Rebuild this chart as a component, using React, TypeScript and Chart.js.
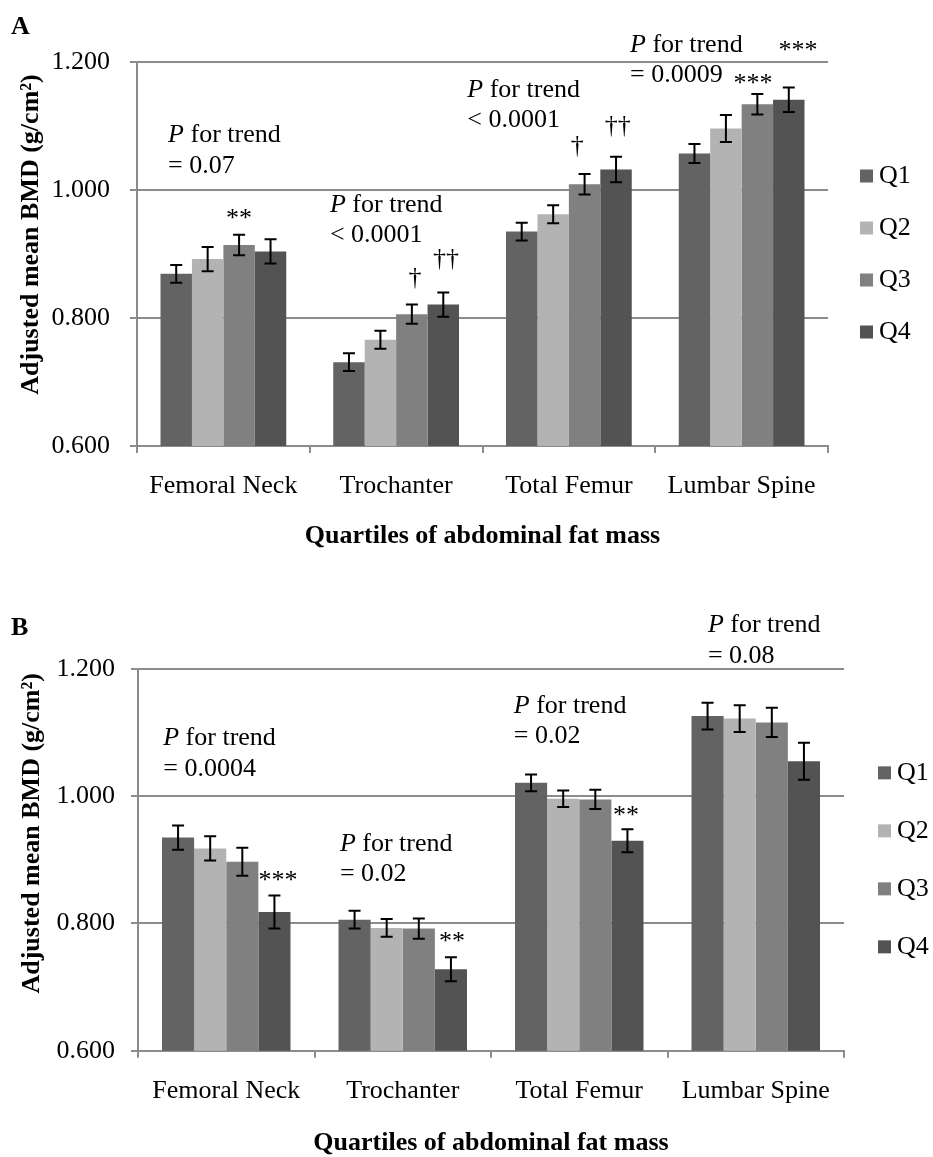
import React, { useEffect, useRef } from 'react';
import { Chart, registerables } from 'chart.js';

Chart.register(...registerables);

// ---------- data ----------
const categories = ['Femoral Neck', 'Trochanter', 'Total Femur', 'Lumbar Spine'];
const quartileLabels = ['Q1', 'Q2', 'Q3', 'Q4'];
const quartileColors = ['#636363', '#b3b3b3', '#808080', '#535353'];
const yTickValues = [0.6, 0.8, 1.0, 1.2];

// Panel A
const aQ1 = [0.869, 0.731, 0.935, 1.057];
const aQ2 = [0.892, 0.766, 0.962, 1.096];
const aQ3 = [0.914, 0.806, 1.009, 1.134];
const aQ4 = [0.904, 0.821, 1.032, 1.141];
const aQ1Err = [0.014, 0.014, 0.014, 0.015];
const aQ2Err = [0.019, 0.014, 0.014, 0.021];
const aQ3Err = [0.016, 0.015, 0.016, 0.016];
const aQ4Err = [0.019, 0.019, 0.020, 0.019];

// Panel B
const bQ1 = [0.935, 0.806, 1.021, 1.126];
const bQ2 = [0.918, 0.793, 0.996, 1.122];
const bQ3 = [0.897, 0.792, 0.995, 1.116];
const bQ4 = [0.818, 0.728, 0.930, 1.055];
const bQ1Err = [0.019, 0.014, 0.013, 0.021];
const bQ2Err = [0.019, 0.014, 0.013, 0.021];
const bQ3Err = [0.022, 0.016, 0.015, 0.023];
const bQ4Err = [0.026, 0.019, 0.018, 0.029];

// annotations (category-fraction / value coordinates)
type Trend = { cat: number; y: number; value: string };
type Mark = { cat: number; y: number; text: string };

const trendA: Trend[] = [
  { cat: -0.32, y: 1.075, value: '= 0.07' },
  { cat: 0.617, y: 0.966, value: '< 0.0001' },
  { cat: 1.412, y: 1.146, value: '< 0.0001' },
  { cat: 2.354, y: 1.216, value: '= 0.0009' },
];
const marksA: Mark[] = [
  { cat: 0.09, y: 0.944, text: '**' },
  { cat: 1.109, y: 0.852, text: '†' },
  { cat: 1.289, y: 0.881, text: '††' },
  { cat: 2.049, y: 1.058, text: '†' },
  { cat: 2.283, y: 1.089, text: '††' },
  { cat: 3.066, y: 1.155, text: '***' },
  { cat: 3.326, y: 1.207, text: '***' },
];

const trendB: Trend[] = [
  { cat: -0.357, y: 1.080, value: '= 0.0004' },
  { cat: 0.644, y: 0.914, value: '= 0.02' },
  { cat: 1.629, y: 1.131, value: '= 0.02' },
  { cat: 2.729, y: 1.258, value: '= 0.08' },
];
const marksB: Mark[] = [
  { cat: 0.293, y: 0.856, text: '***' },
  { cat: 1.279, y: 0.760, text: '**' },
  { cat: 2.265, y: 0.958, text: '**' },
];

const yTitle = 'Adjusted mean BMD (g/cm²)';
const xTitle = 'Quartiles of abdominal fat mass';

// ---------- styling ----------
const FONT = "'Liberation Serif', 'Times New Roman', Times, serif";
const GRID = '#8c8c8c';

type Panel = {
  letter: string;
  series: number[][];
  errors: number[][];
  trends: Trend[];
  marks: Mark[];
  top: number;
  height: number;
  padTop: number;
  padRight: number;
  yWidth: number;
  xHeight: number;
  yTickPad: number;
  xTickPad: number;
  titlePadBottom: number;
  legendX: number;
  legendGap: number;
  yTitleX: number;
  yTitleY: number;
  letterY: number;
};

const panels: Panel[] = [
  {
    letter: 'A',
    series: [aQ1, aQ2, aQ3, aQ4],
    errors: [aQ1Err, aQ2Err, aQ3Err, aQ4Err],
    trends: trendA,
    marks: marksA,
    top: 0,
    height: 580,
    padTop: 62,
    padRight: 105,
    yWidth: 137,
    xHeight: 134,
    yTickPad: 20,
    xTickPad: 17.5,
    titlePadBottom: 28.4,
    legendX: 32,
    legendGap: 52,
    yTitleX: 38,
    yTitleY: 234.5,
    letterY: 33.5,
  },
  {
    letter: 'B',
    series: [bQ1, bQ2, bQ3, bQ4],
    errors: [bQ1Err, bQ2Err, bQ3Err, bQ4Err],
    trends: trendB,
    marks: marksB,
    top: 580,
    height: 580,
    padTop: 89,
    padRight: 89,
    yWidth: 138,
    xHeight: 109.3,
    yTickPad: 16,
    xTickPad: 18,
    titlePadBottom: 1.5,
    legendX: 34,
    legendGap: 58,
    yTitleX: 39,
    yTitleY: 253.3,
    letterY: 55,
  },
];

function PanelChart({ p }: { p: Panel }) {
  const ref = useRef<HTMLCanvasElement>(null);

  useEffect(() => {
    const canvas = ref.current;
    if (!canvas) return;

    const decor = {
      id: 'decor',
      afterDatasetsDraw(chart: any) {
        const ctx = chart.ctx;
        const ys = chart.scales.y;
        ctx.save();
        ctx.strokeStyle = '#000';
        ctx.lineWidth = 2;
        p.series.forEach((vals, d) => {
          const meta = chart.getDatasetMeta(d);
          meta.data.forEach((bar: any, i: number) => {
            const v = vals[i];
            const e = p.errors[d][i];
            const x = bar.x;
            const t = ys.getPixelForValue(v + e);
            const b = ys.getPixelForValue(v - e);
            ctx.beginPath();
            ctx.moveTo(x, t);
            ctx.lineTo(x, b);
            ctx.moveTo(x - 6, t);
            ctx.lineTo(x + 6, t);
            ctx.moveTo(x - 6, b);
            ctx.lineTo(x + 6, b);
            ctx.stroke();
          });
        });
        ctx.restore();
      },
      afterDraw(chart: any) {
        const ctx = chart.ctx;
        const xs = chart.scales.x;
        const ys = chart.scales.y;
        const ca = chart.chartArea;
        const p0 = xs.getPixelForValue(0);
        const cw = xs.getPixelForValue(1) - p0;
        const catPx = (c: number) => p0 + c * cw;

        ctx.save();
        ctx.fillStyle = '#000';
        ctx.textBaseline = 'alphabetic';

        // P for trend annotations
        p.trends.forEach((t) => {
          const x = catPx(t.cat);
          const y = ys.getPixelForValue(t.y);
          ctx.textAlign = 'left';
          ctx.font = `italic 26px ${FONT}`;
          ctx.fillText('P', x, y);
          const w = ctx.measureText('P').width;
          ctx.font = `26px ${FONT}`;
          ctx.fillText(' for trend', x + w, y);
          ctx.fillText(t.value, x, y + 30.5);
        });

        // significance marks
        ctx.font = `26px ${FONT}`;
        ctx.textAlign = 'center';
        p.marks.forEach((m) => {
          ctx.fillText(m.text, catPx(m.cat), ys.getPixelForValue(m.y));
        });

        // legend
        const cy = (ca.top + ca.bottom) / 2;
        ctx.textAlign = 'left';
        ctx.textBaseline = 'middle';
        quartileLabels.forEach((lab, i) => {
          const yc = cy + (i - 1.5) * p.legendGap;
          const x = ca.right + p.legendX;
          ctx.fillStyle = quartileColors[i];
          ctx.fillRect(x, yc - 6.5, 13, 13);
          ctx.fillStyle = '#000';
          ctx.fillText(lab, x + 19, yc + 0.5);
        });

        // y-axis title
        ctx.save();
        ctx.translate(p.yTitleX, p.yTitleY);
        ctx.rotate(-Math.PI / 2);
        ctx.textAlign = 'center';
        ctx.textBaseline = 'alphabetic';
        ctx.font = `bold 26px ${FONT}`;
        ctx.fillText(yTitle, 0, 0);
        ctx.restore();

        // panel letter
        ctx.textAlign = 'left';
        ctx.textBaseline = 'alphabetic';
        ctx.font = `bold 26px ${FONT}`;
        ctx.fillText(p.letter, 11, p.letterY);

        ctx.restore();
      },
    };

    const chart = new Chart(canvas, {
      type: 'bar',
      data: {
        labels: categories,
        datasets: p.series.map((vals, i) => ({
          label: quartileLabels[i],
          data: vals,
          backgroundColor: quartileColors[i],
          borderWidth: 0,
          barPercentage: 1.0,
          categoryPercentage: 0.728,
        })),
      },
      options: {
        responsive: false,
        animation: false,
        events: [],
        layout: {
          padding: { top: p.padTop, right: p.padRight, bottom: 0, left: 0 },
        },
        plugins: {
          legend: { display: false },
          tooltip: { enabled: false },
          title: { display: false },
        },
        scales: {
          x: {
            type: 'category',
            afterFit: (s: any) => {
              s.height = p.xHeight;
            },
            grid: {
              display: true,
              drawOnChartArea: false,
              drawTicks: true,
              tickLength: 7,
              color: GRID,
              lineWidth: 2,
              offset: true,
            },
            border: { display: true, color: GRID, width: 2 },
            ticks: {
              color: '#000',
              font: { family: FONT, size: 26 },
              padding: p.xTickPad,
              maxRotation: 0,
              autoSkip: false,
            },
            title: {
              display: true,
              text: xTitle,
              color: '#000',
              font: { family: FONT, size: 26, weight: 'bold' },
              padding: { top: 0, bottom: p.titlePadBottom },
            },
          },
          y: {
            type: 'linear',
            min: 0.6,
            max: 1.2,
            afterFit: (s: any) => {
              s.width = p.yWidth;
            },
            afterBuildTicks: (s: any) => {
              s.ticks = yTickValues.map((v) => ({ value: v }));
            },
            grid: {
              display: true,
              drawTicks: true,
              tickLength: 7,
              color: GRID,
              lineWidth: 2,
            },
            border: { display: true, color: GRID, width: 2 },
            ticks: {
              color: '#000',
              font: { family: FONT, size: 26 },
              padding: p.yTickPad,
              callback: (v: any) => Number(v).toFixed(3),
            },
            title: { display: false },
          },
        },
      },
      plugins: [decor],
    } as any);

    return () => chart.destroy();
  }, [p]);

  return (
    <canvas
      ref={ref}
      width={933}
      height={p.height}
      style={{ position: 'absolute', left: 0, top: p.top, width: 933, height: p.height, display: 'block' }}
    />
  );
}

export default function App() {
  return (
    <div
      style={{
        position: 'absolute',
        left: 0,
        top: 0,
        width: 933,
        height: 1157,
        overflow: 'hidden',
        background: '#fff',
      }}
    >
      {panels.map((p) => (
        <PanelChart key={p.letter} p={p} />
      ))}
    </div>
  );
}
